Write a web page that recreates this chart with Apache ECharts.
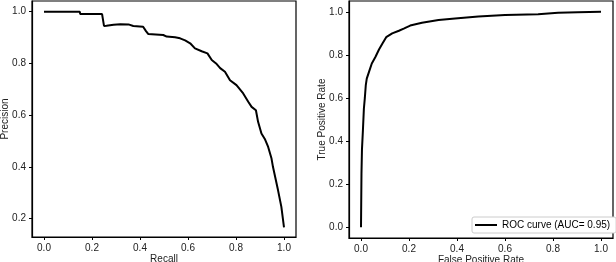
<!DOCTYPE html>
<html>
<head>
<meta charset="utf-8">
<script src="https://cdn.jsdelivr.net/npm/echarts@6/dist/echarts.min.js"></script>
<style>
html,body{margin:0;padding:0;background:#fff;}
#c{width:616px;height:262px;}
</style>
</head>
<body>
<div id="c"></div>
<script>
// Precision-Recall curve (recall, precision)
var prRecall = [0,0.149,0.151,0.242,0.25,0.26,0.29,0.318,0.352,0.372,0.413,0.425,0.434,0.497,0.511,0.546,0.567,0.588,0.609,0.629,0.657,0.681,0.699,0.717,0.734,0.754,0.775,0.802,0.83,0.851,0.865,0.883,0.892,0.906,0.92,0.934,0.948,0.954,0.975,0.989,1.0];
var prPrecision = [1.0,1.0,0.991,0.991,0.945,0.946,0.95,0.952,0.951,0.945,0.942,0.925,0.914,0.91,0.904,0.901,0.897,0.889,0.878,0.858,0.847,0.839,0.813,0.8,0.782,0.768,0.735,0.716,0.684,0.652,0.632,0.619,0.574,0.529,0.508,0.477,0.432,0.4,0.31,0.245,0.166];
// ROC curve (fpr, tpr)
var rocFpr = [0,0.002,0.004,0.008,0.012,0.016,0.02,0.024,0.033,0.045,0.06,0.075,0.09,0.105,0.13,0.158,0.178,0.205,0.254,0.323,0.392,0.489,0.6,0.738,0.821,0.903,1.0];
var rocTpr = [0,0.25,0.36,0.45,0.55,0.6,0.66,0.69,0.72,0.76,0.79,0.825,0.854,0.882,0.9,0.912,0.922,0.936,0.949,0.962,0.969,0.978,0.985,0.989,0.995,0.998,1.0];
var xTicks = [0,0.2,0.4,0.6,0.8,1.0];
var prYTicks = [0.2,0.4,0.6,0.8,1.0];
var rocYTicks = [0,0.2,0.4,0.6,0.8,1.0];
var legendLabel = 'ROC curve (AUC= 0.95)';

function zip(a,b){var r=[];for(var i=0;i<a.length;i++)r.push([a[i],b[i]]);return r;}
var FONT = 'Liberation Sans';
var labelStyle = {fontFamily:FONT,fontSize:10,color:'#222',formatter:function(v){return Number(v).toFixed(1);}};
function axis(gi,type,min,max,ticks,name,nameGap,extra){
  var a = {
    type:'value', gridIndex:gi, min:min, max:max,
    name:name, nameLocation:'middle', nameGap:nameGap, nameMoveOverlap:false,
    nameTextStyle:{fontFamily:FONT,fontSize:10,color:'#222'},
    axisLine:{show:true,onZero:false,lineStyle:{color:'#000',width:1.2}},
    axisTick:{show:true,inside:false,length:3,customValues:ticks,lineStyle:{color:'#000',width:1}},
    axisLabel:Object.assign({customValues:ticks,margin:6},labelStyle),
    splitLine:{show:false}
  };
  return Object.assign(a,extra||{});
}
var chart = echarts.init(document.getElementById('c'),null,{renderer:'canvas'});
chart.setOption({
  animation:false,
  backgroundColor:'#fff',
  grid:[
    {left:32,top:1,width:264,height:236,show:true,borderColor:'#000',borderWidth:1.2,containLabel:false,outerBoundsMode:'none'},
    {left:349,top:1,width:264,height:237,show:true,borderColor:'#000',borderWidth:1.2,containLabel:false,outerBoundsMode:'none'}
  ],
  xAxis:[
    axis(0,'x',-0.05,1.05,xTicks,'Recall',17.5),
    axis(1,'x',-0.05,1.05,xTicks,'False Positive Rate',17.5)
  ],
  yAxis:[
    axis(0,'y',0.1285,1.0415,prYTicks,'Precision',22),
    axis(1,'y',-0.05,1.05,rocYTicks,'True Positive Rate',22)
  ],
  legend:{
    show:true, data:[{name:legendLabel,icon:'rect'}],
    left:472, top:217, itemWidth:22, itemHeight:2, itemGap:4,
    padding:[3,6,3,3], borderColor:'#ccc', borderWidth:1, borderRadius:2,
    backgroundColor:'#fff',
    textStyle:{fontFamily:FONT,fontSize:10,color:'#000',padding:[0,0,0,0]}
  },
  series:[
    {type:'line',xAxisIndex:0,yAxisIndex:0,data:zip(prRecall,prPrecision),showSymbol:false,symbol:'none',
     lineStyle:{color:'#000',width:2},itemStyle:{color:'#000'}},
    {type:'line',name:legendLabel,xAxisIndex:1,yAxisIndex:1,data:zip(rocFpr,rocTpr),showSymbol:false,symbol:'none',
     lineStyle:{color:'#000',width:2},itemStyle:{color:'#000'}}
  ]
});
</script>
</body>
</html>
